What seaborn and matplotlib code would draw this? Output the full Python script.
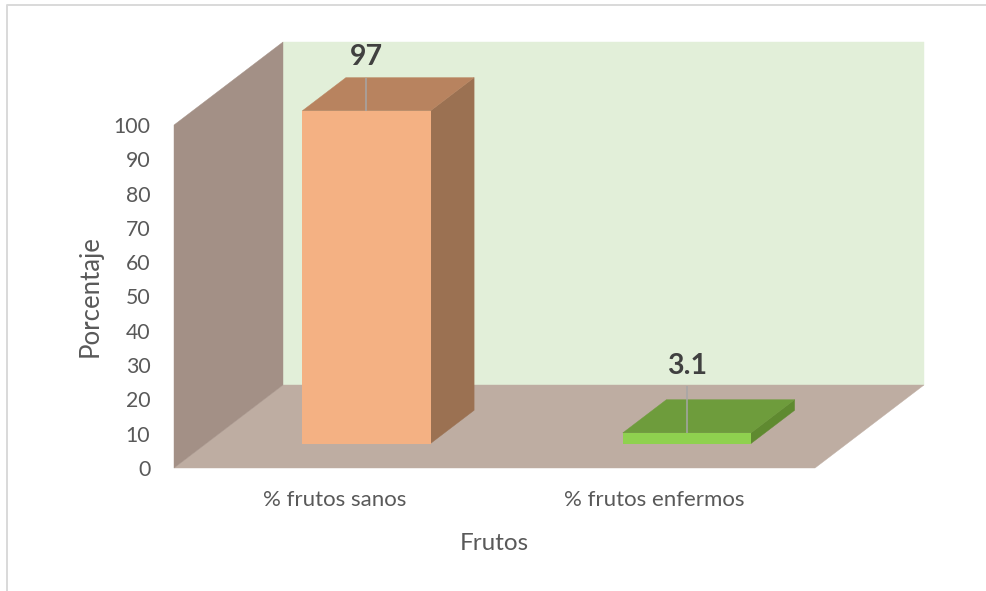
import matplotlib
matplotlib.use("Agg")
import matplotlib.pyplot as plt
from matplotlib.lines import Line2D
from matplotlib.patches import Polygon
import pandas as pd
import seaborn as sns

categories = ["% frutos sanos", "% frutos enfermos"]
values = [97, 3.1]
value_labels = ["97", "3.1"]
y_ticks = list(range(0, 101, 10))
x_title = "Frutos"
y_title = "Porcentaje"

front_colors = ["#F4B183", "#8FD14F"]
top_colors = ["#B8835F", "#6E9C3C"]
side_colors = ["#9B7152", "#5F8A30"]

sns.set_theme(style="white")
plt.rcParams["font.family"] = ["Lato", "DejaVu Sans"]

W, H = 986, 591
fig = plt.figure(figsize=(W / 100, H / 100), dpi=100, facecolor="white")
ax = fig.add_axes([174 / W, (H - 468) / H, 641 / W, 343 / H])

df = pd.DataFrame({"cat": categories, "val": values})
sns.barplot(data=df, x="cat", y="val", hue="cat", palette=front_colors,
            width=0.4, legend=False, saturation=1, ax=ax)
ax.set_xlim(-0.5, 1.5)
ax.set_ylim(0, 100)
ax.patch.set_visible(False)
for s in ax.spines.values():
    s.set_visible(False)

# oblique projection: depth 1 = back of the chart box
DX, DY = 109 / 320.5, 83 / 3.43
BAR_D0, BAR_D1 = 0.295, 0.295 + 0.40


def proj(x, y, d):
    return (x + d * DX, y + d * DY)


def face(pts, color, z):
    ax.add_patch(Polygon([proj(*p) for p in pts], closed=True, facecolor=color,
                         edgecolor=color, linewidth=0.3, clip_on=False, zorder=z))


xa, xb = -0.5, 1.5
face([(xa, 0, 1), (xb, 0, 1), (xb, 100, 1), (xa, 100, 1)], "#E2EFD9", 0.1)
face([(xa, 0, 0), (xb, 0, 0), (xb, 0, 1), (xa, 0, 1)], "#BEADA2", 0.2)
face([(xa, 0, 0), (xa, 0, 1), (xa, 100, 1), (xa, 100, 0)], "#A39086", 0.3)

lift_label = [15.7, 19.5]
lift_leader = [9.7, 13.7]
for i in range(len(values)):
    bar = list(ax.containers[i])[0]
    x0 = bar.get_x()
    x1 = x0 + bar.get_width()
    v = bar.get_height()
    sx, sy = proj(x0, 0, BAR_D0)
    bar.set_x(sx)
    bar.set_y(sy)
    bar.set_clip_on(False)
    bar.set_zorder(3)
    bar.set_linewidth(0)
    face([(x0, v, BAR_D0), (x1, v, BAR_D0), (x1, v, BAR_D1), (x0, v, BAR_D1)], top_colors[i], 2.5)
    face([(x1, 0, BAR_D0), (x1, 0, BAR_D1), (x1, v, BAR_D1), (x1, v, BAR_D0)], side_colors[i], 2.4)
    cx = sx + bar.get_width() / 2
    ytop = sy + v
    ax.plot([cx, cx], [ytop, ytop + lift_leader[i]], color="#A6A6A6", lw=1.1,
            clip_on=False, zorder=4, solid_capstyle="butt")
    ax.text(cx, ytop + lift_label[i], value_labels[i], ha="center", va="center",
            fontsize=20.5, fontweight="bold", color="#404040", zorder=5)

ax.set_yticks(y_ticks)
ax.tick_params(axis="y", length=0, pad=17, labelsize=15.3, labelcolor="#595959")
ax.tick_params(axis="x", length=0, pad=15.5, labelsize=16, labelcolor="#595959")
ax.set_xlabel(x_title, fontsize=17.5, color="#595959")
ax.set_ylabel(y_title, fontsize=18.5, color="#595959")
ax.xaxis.set_label_coords(0.499, -0.219)
ax.yaxis.set_label_coords(-0.131, 0.502)
ax.xaxis.label.set_verticalalignment("center")
ax.yaxis.label.set_verticalalignment("center")

# chart-area frame (only left and top edges are visible in the crop)
fx, fy = 7 / W, 1 - 5 / H
fig.add_artist(Line2D([fx, fx, 1], [0, fy, fy], color="#D9D9D9", lw=1.4,
                      transform=fig.transFigure))

fig.savefig("out.png", dpi=100, facecolor="white")
